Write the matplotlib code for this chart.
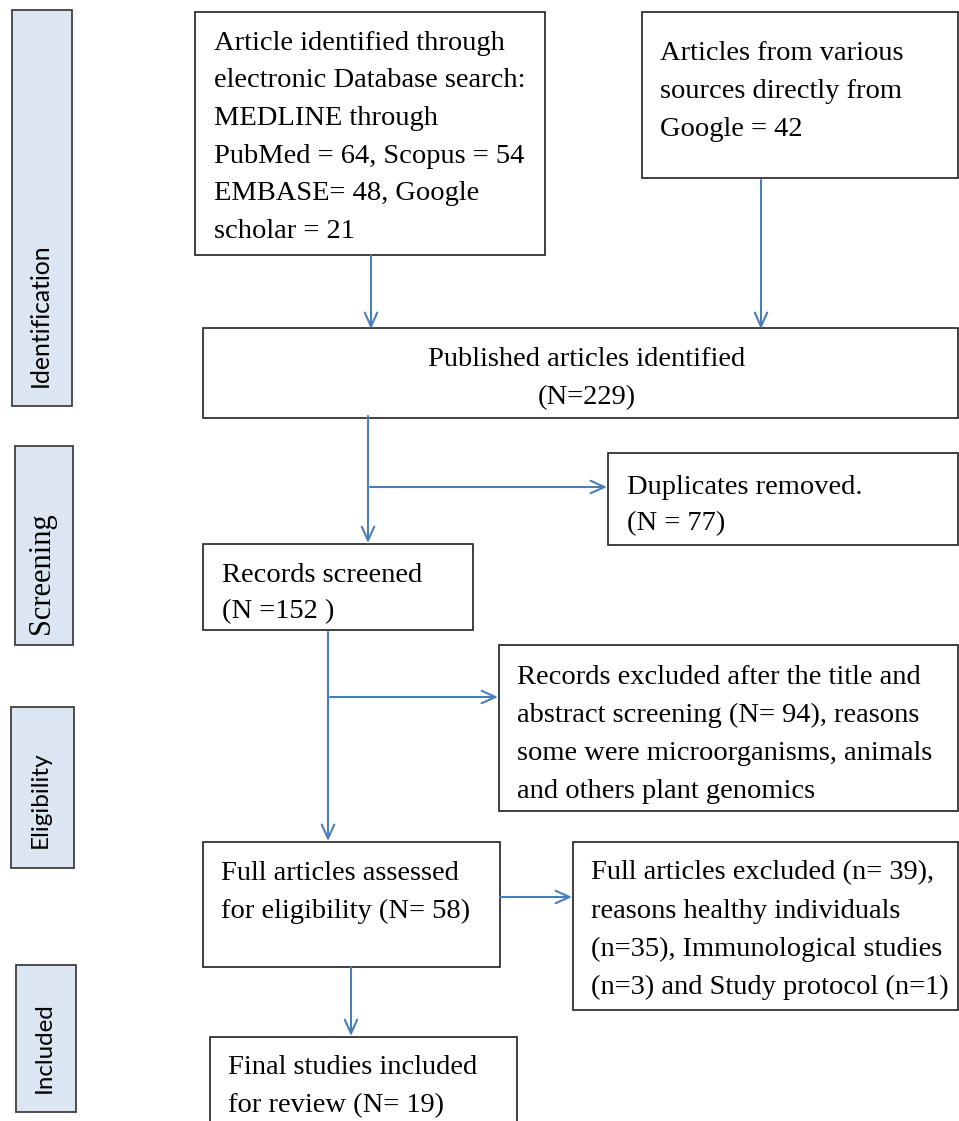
import matplotlib.pyplot as plt
from matplotlib.patches import Rectangle

# stage labels on the left
stages = ['Identification', 'Screening', 'Eligibility', 'Included']
stage_boxes = [(12, 10, 60, 396), (15, 446, 58, 199), (11, 707, 63, 161), (16, 965, 60, 147)]
stage_label_y = [315, 573, 800, 1048]
stage_fonts = ['Lato', 'Liberation Serif', 'Lato', 'Lato']
stage_sizes = [17.8, 22, 17.6, 17.4]

# flow boxes: text lines
box_texts = [
    ['Article identified through', 'electronic Database search:', 'MEDLINE through',
     'PubMed = 64, Scopus = 54', 'EMBASE= 48, Google', 'scholar = 21'],
    ['Articles from various', 'sources directly from', 'Google = 42'],
    ['Published articles identified', '(N=229)'],
    ['Duplicates removed.', '(N = 77)'],
    ['Records screened', '(N =152 )'],
    ['Records excluded after the title and', 'abstract screening (N= 94), reasons',
     'some were microorganisms, animals', 'and others plant genomics'],
    ['Full articles assessed', 'for eligibility (N= 58)'],
    ['Full articles excluded (n= 39),', 'reasons healthy individuals',
     '(n=35), Immunological studies', '(n=3) and Study protocol (n=1)'],
    ['Final studies included', 'for review (N= 19)'],
]
# x, y, w, h in pixels (y downwards)
box_rects = [(195, 12, 350, 243), (642, 12, 316, 166), (203, 328, 755, 90),
             (608, 453, 350, 92), (203, 544, 270, 86), (499, 645, 459, 166),
             (203, 842, 297, 125), (573, 842, 385, 168), (210, 1037, 307, 120)]
text_pos = [(214, 43), (660, 54), (587, 359), (627, 487), (222, 575),
            (517, 677), (221, 873), (591, 873), (228, 1067)]
text_align = ['left', 'left', 'center', 'left', 'left', 'left', 'left', 'left', 'left']
line_gap = [37.7, 38, 38.5, 36.5, 37, 38, 38.5, 38.3, 38.5]

# arrows: (x0, y0, x1, y1)
arrows = [(371, 255, 371, 329), (761, 180, 761, 329), (368, 416, 368, 543),
          (370, 487, 607, 487), (328, 632, 328, 841), (330, 697, 498, 697),
          (500, 897, 572, 897), (351, 967, 351, 1036)]

blue = '#4a7ebb'

fig = plt.figure(figsize=(9.59, 11.21), dpi=100)
ax = fig.add_axes([0, 0, 1, 1])
ax.set_xlim(0, 959)
ax.set_ylim(1121, 0)
ax.axis('off')

for (x, y, w, h), lab, ly, fam, fs in zip(stage_boxes, stages, stage_label_y, stage_fonts, stage_sizes):
    ax.add_patch(Rectangle((x, y), w, h, facecolor='#dce6f2', edgecolor='#404040', lw=1.3))
    ax.text(x + w / 2 - 2, ly, lab, rotation=90, ha='center', va='center',
            fontsize=fs, family=fam, color='black')

for (x, y, w, h) in box_rects:
    ax.add_patch(Rectangle((x, y), w, h, facecolor='white', edgecolor='#202020', lw=1.2))

for lines, (tx, ty), al, gap in zip(box_texts, text_pos, text_align, line_gap):
    for i, line in enumerate(lines):
        ax.text(tx, ty + i * gap, line, ha=al, va='center', fontsize=20.5,
                family='Liberation Serif', color='black')

for x0, y0, x1, y1 in arrows:
    ax.annotate('', xy=(x1, y1), xytext=(x0, y0),
                arrowprops=dict(arrowstyle='->,head_length=1.0,head_width=0.45',
                                color=blue, lw=1.5, shrinkA=0, shrinkB=0))

fig.savefig('out.png', dpi=100)
